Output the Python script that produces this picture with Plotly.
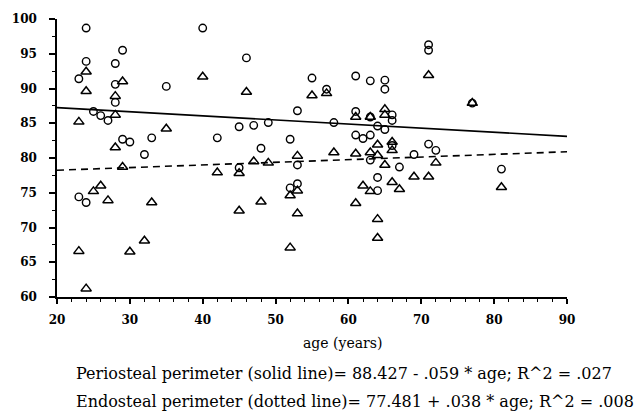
import plotly.graph_objects as go

# Periosteal perimeter (circles)
peri_age = [24, 40, 29, 24, 28, 23, 28, 35, 28, 25, 26, 27, 29, 30, 33, 32, 42, 23, 24,
            46, 55, 61, 63, 65, 65, 57, 53, 61, 63, 66, 66, 64, 65, 58, 49, 47, 45, 52, 48,
            61, 62, 63, 45, 53, 63, 64, 53, 52, 64,
            71, 71, 77, 69, 71, 72, 67, 81, 66]
peri_val = [98.7, 98.7, 95.5, 93.9, 93.6, 91.4, 90.6, 90.3, 88.0, 86.7, 86.1, 85.4, 82.7, 82.3, 82.9, 80.5, 82.9, 74.4, 73.6,
            94.4, 91.5, 91.8, 91.1, 91.2, 89.9, 89.9, 86.8, 86.7, 85.9, 86.2, 85.4, 84.6, 84.1, 85.1, 85.1, 84.7, 84.5, 82.7, 81.4,
            83.3, 82.8, 83.3, 78.6, 79.0, 79.7, 77.2, 76.3, 75.7, 75.3,
            96.3, 95.5, 87.9, 80.5, 82.0, 81.1, 78.7, 78.4, 81.8]

# Endosteal perimeter (triangles)
endo_age = [24, 24, 29, 40, 28, 23, 28, 35, 28, 29, 42, 26, 25, 27, 33, 32, 23, 30, 24,
            46, 55, 57, 61, 63, 65, 65, 53, 58, 61, 63, 64, 64, 66, 66, 45, 47, 49, 65, 66,
            53, 52, 62, 63, 48, 45, 53, 61, 64, 64, 52, 67, 69, 71, 72, 71, 77, 81]
endo_val = [92.4, 89.6, 91.0, 91.7, 88.9, 85.2, 86.2, 84.2, 81.5, 78.7, 77.9, 76.0, 75.2, 73.9, 73.6, 68.1, 66.6, 66.5, 61.2,
            89.5, 89.0, 89.3, 85.9, 85.9, 87.0, 86.2, 80.3, 80.8, 80.6, 80.8, 81.9, 80.4, 82.3, 81.1, 77.8, 79.5, 79.3, 79.0, 76.5,
            75.3, 74.6, 76.0, 75.2, 73.7, 72.4, 72.0, 73.5, 71.2, 68.5, 67.1, 75.5, 77.3, 77.3, 79.3, 91.9, 87.9, 75.8]

# Regression coefficients
peri_intercept, peri_slope = 88.427, -0.059
endo_intercept, endo_slope = 77.481, 0.038
line_ages = [20, 90]

x_tick_vals = [20, 30, 40, 50, 60, 70, 80, 90]
y_tick_vals = [60, 65, 70, 75, 80, 85, 90, 95, 100]

caption1 = "Periosteal perimeter (solid line)= 88.427 - .059 * age; R^2 = .027"
caption2 = "Endosteal perimeter (dotted line)= 77.481 + .038 * age; R^2 = .008"
x_title = "age (years)"

FONT = "DejaVu Serif"

fig = go.Figure()
fig.add_trace(go.Scatter(
    x=line_ages, y=[peri_intercept + peri_slope * a for a in line_ages],
    mode="lines", line=dict(color="black", width=1.6), showlegend=False, hoverinfo="skip"))
fig.add_trace(go.Scatter(
    x=line_ages, y=[endo_intercept + endo_slope * a for a in line_ages],
    mode="lines", line=dict(color="black", width=1.6, dash="7px,5px"), showlegend=False, hoverinfo="skip"))
fig.add_trace(go.Scatter(
    x=peri_age, y=peri_val, mode="markers",
    marker=dict(symbol="circle-open", size=7.5, color="black", line=dict(width=1.4, color="black")),
    showlegend=False))
fig.add_trace(go.Scatter(
    x=endo_age, y=endo_val, mode="markers",
    marker=dict(symbol="triangle-up-open", size=9, color="black", line=dict(width=1.5, color="black")),
    showlegend=False))

fig.update_layout(
    width=640, height=411,
    margin=dict(l=57, r=73, t=16, b=114),
    paper_bgcolor="white", plot_bgcolor="white",
    font=dict(family=FONT, color="black", size=13),
)
fig.update_xaxes(
    range=[20, 90], tickvals=x_tick_vals, ticktext=[str(v) for v in x_tick_vals],
    showgrid=False, zeroline=False, showline=True, linecolor="black", linewidth=2,
    ticks="outside", ticklen=5, tickwidth=1.5, tickcolor="black",
    tickfont=dict(family=FONT, size=12, weight="bold"), ticklabelstandoff=6,
    minor=dict(dtick=2, ticks="outside", ticklen=3, tickwidth=1, tickcolor="black", showgrid=False),
)
fig.update_yaxes(
    range=[60, 100], tickvals=y_tick_vals, ticktext=[str(v) for v in y_tick_vals],
    showgrid=False, zeroline=False, showline=True, linecolor="black", linewidth=1.5,
    ticks="outside", ticklen=6, tickwidth=1.5, tickcolor="black",
    tickfont=dict(family=FONT, size=12, weight="bold"), ticklabelstandoff=10,
    minor=dict(dtick=2.5, ticks="outside", ticklen=3, tickwidth=1, tickcolor="black", showgrid=False),
)

fig.add_annotation(text=x_title, xref="paper", yref="paper", x=0.559, y=-0.165,
                   xanchor="center", yanchor="middle", showarrow=False,
                   font=dict(family=FONT, size=14))
fig.add_annotation(text=caption1, xref="paper", yref="paper", x=0.033, y=-0.275,
                   xanchor="left", yanchor="middle", showarrow=False,
                   font=dict(family=FONT, size=16))
fig.add_annotation(text=caption2, xref="paper", yref="paper", x=0.033, y=-0.375,
                   xanchor="left", yanchor="middle", showarrow=False,
                   font=dict(family=FONT, size=16))

fig.write_html("out.html")
